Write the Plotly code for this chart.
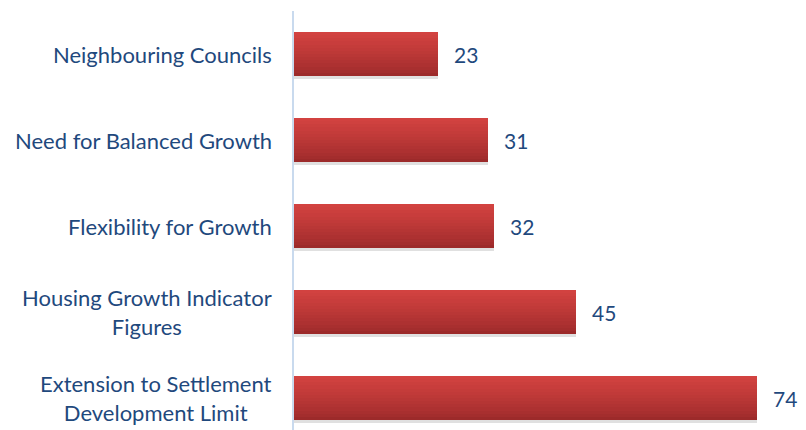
import plotly.graph_objects as go

categories = ["Extension to Settlement<br>Development Limit",
              "Housing Growth Indicator<br>Figures",
              "Flexibility for Growth",
              "Need for Balanced Growth",
              "Neighbouring Councils"]
values = [74, 45, 32, 31, 23]

TXT = "#1F497D"
FONT = "Lato"
bar_w = 0.51
n_slices = 14
top_col = (210, 66, 64)
bot_col = (156, 42, 42)

fig = go.Figure()

# soft shadow
fig.add_trace(go.Bar(y=list(range(len(values))), x=values, orientation="h",
                     width=bar_w, offset=-bar_w/2 - 0.035,
                     marker=dict(color="rgba(0,0,0,0.12)", line=dict(width=0)),
                     hoverinfo="skip", showlegend=False))

# gradient bar built from horizontal slices
for i in range(n_slices):
    t = i / (n_slices - 1)
    c = tuple(round(bot_col[k] + (top_col[k] - bot_col[k]) * t**0.8) for k in range(3))
    sw = bar_w / n_slices
    fig.add_trace(go.Bar(y=list(range(len(values))), x=values, orientation="h",
                         width=sw * 1.05, offset=-bar_w/2 + i * sw,
                         marker=dict(color="rgb(%d,%d,%d)" % c, line=dict(width=0)),
                         hoverinfo="skip", showlegend=False))

annotations = []
for i, (cat, v) in enumerate(zip(categories, values)):
    annotations.append(dict(x=v, y=i, xref="x", yref="y", text=str(v),
                            showarrow=False, xanchor="left", xshift=14,
                            font=dict(family=FONT, size=21, color=TXT)))
    annotations.append(dict(x=0, y=i, xref="paper", yref="y", text=cat,
                            showarrow=False, xanchor="right", xshift=-20,
                            align="center",
                            font=dict(family=FONT, size=22, color=TXT)))

fig.update_layout(
    width=798, height=422,
    margin=dict(l=286, r=11, t=3, b=0),
    paper_bgcolor="white", plot_bgcolor="white",
    barmode="overlay", bargap=0,
    xaxis=dict(range=[0, 80], visible=False, fixedrange=True),
    yaxis=dict(range=[-0.372, 4.5], showticklabels=False, showgrid=False,
               zeroline=False, showline=True, linecolor="#C9DAEE", linewidth=2,
               ticks="", fixedrange=True),
    annotations=annotations,
    showlegend=False,
)

fig.write_html("out.html")
